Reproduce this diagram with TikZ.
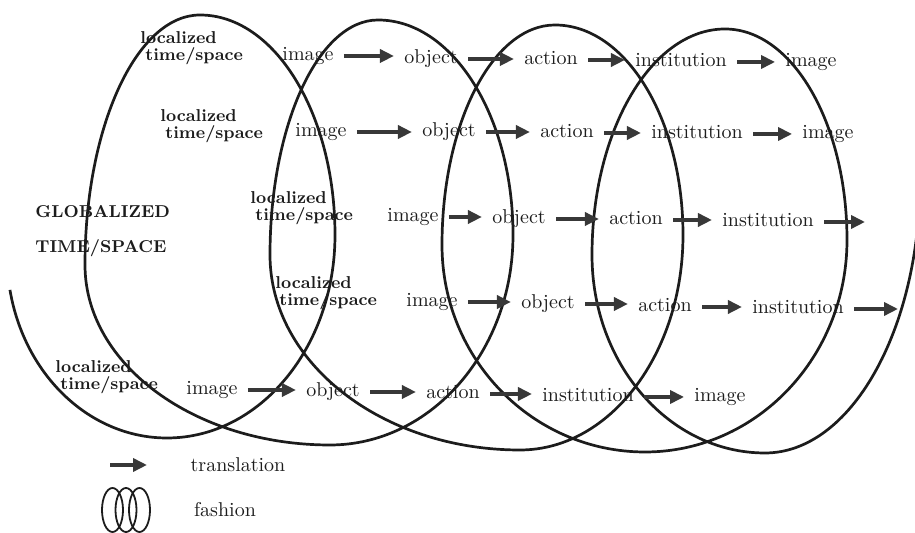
\documentclass[tikz,border=0pt]{standalone}
\usepackage{tikz}
\usetikzlibrary{arrows.meta}
\definecolor{inkdark}{HTML}{1C1C1C}
\definecolor{inkarrow}{HTML}{383838}

\begin{document}
\begin{tikzpicture}[x=0.5pt, y=0.5pt,
    word/.style={inner sep=0pt, text height=4.3pt, text depth=0pt, text=inkdark},
    place/.style={inner sep=0pt, anchor=west, align=left, text=inkdark, font=\fontsize{8.6}{8.8}\selectfont\bfseries},
    trans/.style={-{Triangle[length=7pt,width=6.5pt]}, line width=1.8pt, draw=inkarrow, shorten <=5pt, shorten >=5pt},
    coil/.style={line width=1.35pt, draw=inkdark},
    ring/.style={line width=0.9pt, draw=inkdark}]
    \useasboundingbox (0,0) rectangle (915,533);
    \clip (0,0) rectangle (915,533);

    \draw[coil] (167,278) ++(191:160 and 183)
        arc[start angle=191, end angle=270, x radius=160, y radius=183]
        arc[start angle=270, end angle=360, x radius=168, y radius=203]
        arc[start angle=0, end angle=90, x radius=135, y radius=220]
        arc[start angle=90, end angle=180, x radius=115, y radius=250]
        arc[start angle=180, end angle=270, x radius=245, y radius=180]
        arc[start angle=270, end angle=360, x radius=183, y radius=210]
        arc[start angle=0, end angle=90, x radius=135, y radius=215]
        arc[start angle=90, end angle=180, x radius=108, y radius=235]
        arc[start angle=180, end angle=270, x radius=250, y radius=195]
        arc[start angle=270, end angle=360, x radius=163, y radius=215]
        arc[start angle=0, end angle=90, x radius=128, y radius=210]
        arc[start angle=90, end angle=180, x radius=113, y radius=220]
        arc[start angle=180, end angle=270, x radius=203, y radius=207]
        arc[start angle=270, end angle=360, x radius=202, y radius=212]
        arc[start angle=0, end angle=90, x radius=122, y radius=211]
        arc[start angle=90, end angle=180, x radius=133, y radius=226]
        arc[start angle=180, end angle=270, x radius=173, y radius=198]
        arc[start angle=270, end angle=360, x radius=155, y radius=274];

    \node (glob) [place] at (35,321) {GLOBALIZED};
    \node (globts) [place] at (35,285) {TIME/SPACE};

    % first row
    \node (lts1) [place] at (140,485) {localized\\\hspace*{2.5pt}time/space};
    \node (img1) [word] at (308,477) {image};
    \node (obj1) [word] at (431,474) {object};
    \node (act1) [word] at (551,473) {action};
    \node (ins1) [word] at (681,471) {institution};
    \node (imgb1) [word] at (811,471) {image};
    \draw[trans] (img1.east) -- (img1.east -| obj1.west);
    \draw[trans] (obj1.east) -- (obj1.east -| act1.west);
    \draw[trans] (act1.east) -- (act1.east -| ins1.west);
    \draw[trans] (ins1.east) -- (ins1.east -| imgb1.west);

    % second row
    \node (lts2) [place] at (160,407) {localized\\\hspace*{2.5pt}time/space};
    \node (img2) [word] at (321,401) {image};
    \node (obj2) [word] at (449,401) {object};
    \node (act2) [word] at (567,400) {action};
    \node (ins2) [word] at (697,399) {institution};
    \node (imgb2) [word] at (828,399) {image};
    \draw[trans] (img2.east) -- (img2.east -| obj2.west);
    \draw[trans] (obj2.east) -- (obj2.east -| act2.west);
    \draw[trans] (act2.east) -- (act2.east -| ins2.west);
    \draw[trans] (ins2.east) -- (ins2.east -| imgb2.west);

    % third row
    \node (lts3) [place] at (250,325) {localized\\\hspace*{2.5pt}time/space};
    \node (img3) [word] at (413,316) {image};
    \node (obj3) [word] at (519,314) {object};
    \node (act3) [word] at (636,313) {action};
    \node (ins3) [word] at (768,311) {institution};
    \coordinate (end3) at (875,311);
    \draw[trans] (img3.east) -- (img3.east -| obj3.west);
    \draw[trans] (obj3.east) -- (obj3.east -| act3.west);
    \draw[trans] (act3.east) -- (act3.east -| ins3.west);
    \draw[trans] (ins3.east) -- (end3);

    % fourth row
    \node (lts4) [place] at (275,240) {localized\\\hspace*{2pt}time/space};
    \node (img4) [word] at (432,231) {image};
    \node (obj4) [word] at (548,229) {object};
    \node (act4) [word] at (665,226) {action};
    \node (ins4) [word] at (798,224) {institution};
    \coordinate (end4) at (908,224);
    \draw[trans] (img4.east) -- (img4.east -| obj4.west);
    \draw[trans] (obj4.east) -- (obj4.east -| act4.west);
    \draw[trans] (act4.east) -- (act4.east -| ins4.west);
    \draw[trans] (ins4.east) -- (end4);

    % fifth row
    \node (lts5) [place] at (55,156) {localized\\\hspace*{2.5pt}time/space};
    \node (img5) [word] at (212,143) {image};
    \node (obj5) [word] at (333,141) {object};
    \node (act5) [word] at (453,139) {action};
    \node (ins5) [word] at (588,136) {institution};
    \node (imgb5) [word] at (720,136) {image};
    \draw[trans] (img5.east) -- (img5.east -| obj5.west);
    \draw[trans] (obj5.east) -- (obj5.east -| act5.west);
    \draw[trans] (act5.east) -- (act5.east -| ins5.west);
    \draw[trans] (ins5.east) -- (ins5.east -| imgb5.west);

    % legend
    \coordinate (legtail) at (100,68);
    \coordinate (leghead) at (157,68);
    \draw[trans] (legtail) -- (leghead);
    \node (transl) [word] at (238,66) {translation};
    \draw[ring] (112.5,23) ellipse [x radius=10.5, y radius=22];
    \draw[ring] (126,23) ellipse [x radius=10.5, y radius=22];
    \draw[ring] (139.5,23) ellipse [x radius=10.5, y radius=22];
    \node (fash) [word] at (225,21) {fashion};
\end{tikzpicture}
\end{document}
